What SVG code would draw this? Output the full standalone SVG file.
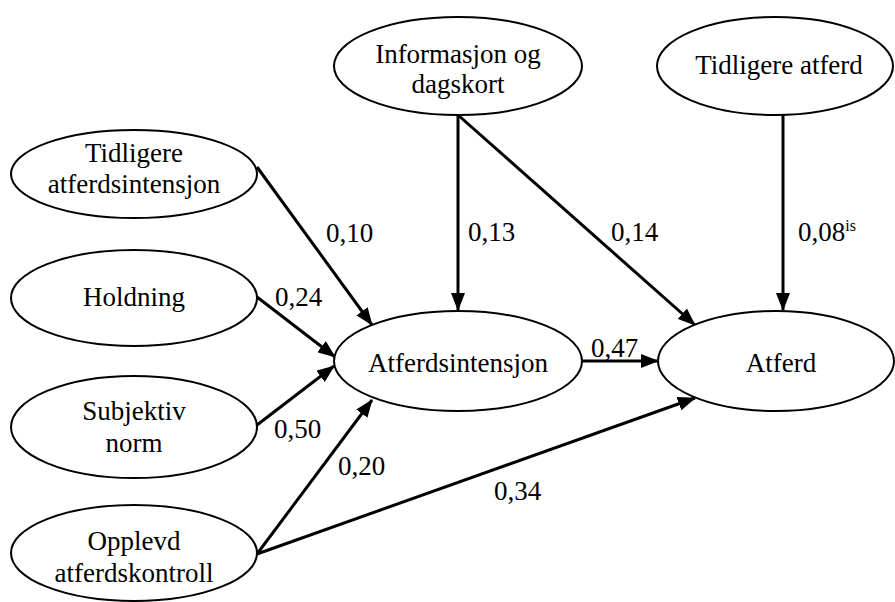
<svg xmlns="http://www.w3.org/2000/svg" width="895" height="602" viewBox="0 0 895 602" font-family="'Liberation Serif', serif">
<style>
.n ellipse{fill:#fff;stroke:#000;stroke-width:2}
text{font-family:'Liberation Serif', serif;font-size:27px;fill:#000}
.n text{text-anchor:middle}
.c line{stroke:#000;stroke-width:3;marker-end:url(#ah)}
</style>
<defs>
<marker id="ah" markerUnits="userSpaceOnUse" markerWidth="18" markerHeight="14" refX="17" refY="7" orient="auto" viewBox="0 0 18 14">
<path d="M0,0 L18,7 L0,14 Z" fill="#000"/>
</marker>
</defs>
<g class="c">
<line x1="257" y1="167" x2="372" y2="325"/>
<line x1="257" y1="297" x2="335" y2="357"/>
<line x1="257" y1="425" x2="334" y2="366"/>
<line x1="257" y1="554" x2="372" y2="400"/>
<line x1="257" y1="554" x2="695" y2="398"/>
<line x1="458" y1="115" x2="458" y2="310"/>
<line x1="458" y1="115" x2="695" y2="325"/>
<line x1="783" y1="115" x2="783" y2="310"/>
<line x1="582" y1="361" x2="658" y2="361"/>
</g>
<g id="tidl-int" class="n"><ellipse cx="134" cy="174" rx="123" ry="44"/><text x="134" y="162">Tidligere</text><text x="134" y="193">atferdsintensjon</text></g>
<g id="holdning" class="n"><ellipse cx="134" cy="298" rx="123" ry="48"/><text x="134" y="306">Holdning</text></g>
<g id="subjektiv" class="n"><ellipse cx="134" cy="427" rx="123" ry="51"/><text x="134" y="420">Subjektiv</text><text x="134" y="452">norm</text></g>
<g id="opplevd" class="n"><ellipse cx="134" cy="553" rx="123" ry="48"/><text x="134" y="550">Opplevd</text><text x="134" y="582">atferdskontroll</text></g>
<g id="info" class="n"><ellipse cx="458" cy="66" rx="124" ry="49"/><text x="458" y="63">Informasjon og</text><text x="458" y="93">dagskort</text></g>
<g id="tidl-atf" class="n"><ellipse cx="775" cy="66" rx="118" ry="49"/><text x="779" y="74">Tidligere atferd</text></g>
<g id="intensjon" class="n"><ellipse cx="458" cy="361" rx="124" ry="50"/><text x="458" y="372">Atferdsintensjon</text></g>
<g id="atferd" class="n"><ellipse cx="776" cy="361" rx="118" ry="50"/><text x="781" y="372">Atferd</text></g>
<g id="labels">
<text x="326" y="242">0,10</text>
<text x="275" y="306">0,24</text>
<text x="274" y="438">0,50</text>
<text x="338" y="475">0,20</text>
<text x="494" y="500">0,34</text>
<text x="468" y="241">0,13</text>
<text x="611" y="241">0,14</text>
<text x="591" y="357">0,47</text>
<text x="798" y="241">0,08<tspan font-size="16" dy="-10">is</tspan></text>
</g>
</svg>
